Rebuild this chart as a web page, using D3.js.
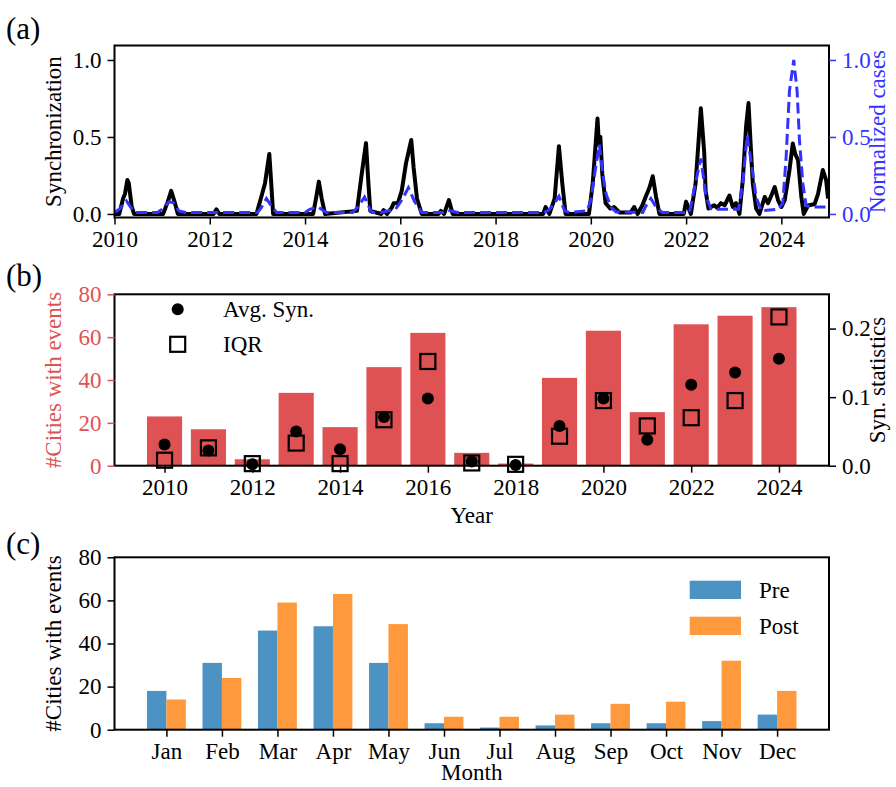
<!DOCTYPE html>
<html>
<head>
<meta charset="utf-8">
<script src="https://cdn.jsdelivr.net/npm/d3@7"></script>
<style>
  body { margin: 0; background: #fff; }
  svg text { font-family: "Liberation Serif", "DejaVu Serif", serif; }
</style>
</head>
<body>
<script>
var syncPoints = [
  [2010.00,0],[2010.10,0],[2010.18,0.10],[2010.22,0.13],[2010.27,0.22],[2010.30,0.20],[2010.36,0.05],[2010.41,0],
  [2011.02,0],[2011.12,0.08],[2011.19,0.15],[2011.26,0.08],[2011.33,0],
  [2012.08,0],[2012.14,0.03],[2012.20,0],
  [2012.98,0],[2013.09,0.12],[2013.16,0.20],[2013.25,0.39],[2013.29,0.20],[2013.33,0],
  [2014.17,0],[2014.23,0.10],[2014.29,0.21],[2014.35,0.10],[2014.42,0],
  [2015.09,0.02],[2015.19,0.26],[2015.28,0.46],[2015.33,0.20],[2015.37,0.02],
  [2015.60,0],[2015.65,0.025],[2015.72,0],[2015.82,0.04],[2015.86,0.07],[2015.95,0.07],
  [2016.03,0.15],[2016.12,0.33],[2016.23,0.48],[2016.28,0.30],[2016.35,0.10],[2016.40,0.05],[2016.45,0],
  [2016.80,0],[2016.85,0.02],[2016.92,0],[2017.02,0.09],[2017.10,0],
  [2019.00,0],[2019.05,0.045],[2019.13,0],[2019.24,0.10],[2019.33,0.44],[2019.40,0.20],[2019.47,0],
  [2019.96,0],[2020.04,0.20],[2020.10,0.45],[2020.14,0.62],[2020.17,0.45],[2020.20,0.50],[2020.24,0.26],
  [2020.31,0.07],[2020.41,0.035],[2020.49,0.045],[2020.60,0.01],[2020.84,0.01],[2020.91,0.045],[2020.98,0],
  [2021.08,0.055],[2021.15,0.11],[2021.23,0.17],[2021.30,0.245],[2021.37,0.11],[2021.44,0],
  [2021.95,0],[2022.00,0.08],[2022.10,0],[2022.20,0.20],[2022.31,0.686],[2022.38,0.40],[2022.41,0.15],
  [2022.47,0.035],[2022.59,0.056],[2022.65,0.04],[2022.73,0.07],[2022.81,0.056],[2022.91,0.12],[2022.98,0.045],
  [2023.05,0.07],[2023.12,0],[2023.19,0.22],[2023.26,0.57],[2023.31,0.72],[2023.35,0.48],[2023.40,0.20],
  [2023.47,0.035],[2023.54,0],[2023.65,0.11],[2023.72,0.07],[2023.79,0.12],[2023.86,0.175],[2023.93,0.09],
  [2024.00,0.045],[2024.07,0.09],[2024.17,0.285],[2024.24,0.458],[2024.29,0.39],[2024.35,0.35],[2024.42,0.11],
  [2024.47,0],[2024.56,0.055],[2024.70,0.065],[2024.77,0.13],[2024.87,0.285],[2024.94,0.22],[2024.98,0.10]
];
var casePoints = [
  [2010.00,0.01],[2010.10,0.03],[2010.25,0.085],[2010.35,0.04],[2010.45,0.01],
  [2010.90,0.01],[2011.00,0.03],[2011.15,0.08],[2011.25,0.07],[2011.35,0.02],[2011.50,0.01],
  [2013.00,0.01],[2013.08,0.04],[2013.19,0.10],[2013.30,0.05],[2013.40,0.01],
  [2014.00,0.01],[2014.10,0.03],[2014.27,0.045],[2014.45,0.01],
  [2015.00,0.01],[2015.12,0.05],[2015.25,0.11],[2015.32,0.06],[2015.40,0.01],
  [2015.60,0.01],[2015.90,0.03],[2016.05,0.10],[2016.17,0.17],[2016.30,0.08],[2016.45,0.01],
  [2016.90,0.01],[2017.00,0.025],[2017.20,0.01],
  [2019.00,0.01],[2019.10,0.02],[2019.22,0.06],[2019.33,0.115],[2019.45,0.02],[2019.55,0.01],
  [2019.92,0.02],[2020.00,0.09],[2020.10,0.30],[2020.18,0.45],[2020.25,0.26],[2020.32,0.13],
  [2020.42,0.045],[2020.53,0.013],[2021.09,0.01],[2021.17,0.06],[2021.26,0.10],[2021.38,0.04],[2021.50,0.01],
  [2022.07,0.01],[2022.21,0.22],[2022.31,0.36],[2022.42,0.11],[2022.52,0.035],
  [2022.67,0.03],[2023.10,0.03],[2023.19,0.20],[2023.28,0.51],[2023.37,0.33],[2023.47,0.11],[2023.58,0.02],
  [2023.93,0.03],[2024.03,0.07],[2024.10,0.37],[2024.17,0.80],[2024.26,1.0],[2024.33,0.80],[2024.38,0.48],
  [2024.45,0.20],[2024.52,0.055],[2024.63,0.045],[2024.98,0.045]
];

// ---- panel (b): yearly stats
var years = [2010,2011,2012,2013,2014,2015,2016,2017,2018,2019,2020,2021,2022,2023,2024];
var citiesPerYear = [23,17,3,34,18,46,62,6,1,41,63,25,66,70,74];
var avgSyn = [0.031,0.022,0.002,0.050,0.024,0.071,0.098,0.006,0.001,0.058,0.098,0.038,0.118,0.136,0.156];
var iqrSyn = [0.008,0.026,0.003,0.033,0.003,0.067,0.152,0.004,0.002,0.043,0.095,0.058,0.070,0.095,0.217];

// ---- panel (c): monthly counts
var months = ["Jan","Feb","Mar","Apr","May","Jun","Jul","Aug","Sep","Oct","Nov","Dec"];
var preCounts = [18,31,46,48,31,3,1,2,3,3,4,7];
var postCounts = [14,24,59,63,49,6,6,7,12,13,32,18];

var W = 896, H = 787;
var L = 114.5, R = 829;
var FS = 23;
var red = "#de5253", blue = "#3333ff", barBlue = "#4c92c3", barOrange = "#ff993e";

var svg = d3.select("body").append("svg").attr("width", W).attr("height", H);

function styleAxis(g, color) {
  g.select(".domain").remove();
  g.selectAll(".tick line").attr("stroke", color || "#000").attr("stroke-width", 1.5);
  g.selectAll(".tick text").attr("fill", color || "#000").attr("font-size", FS)
    .attr("font-family", "Liberation Serif");
}
function frame(top, bottom) {
  svg.append("rect").attr("x", L).attr("y", top).attr("width", R - L).attr("height", bottom - top)
    .attr("fill", "none").attr("stroke", "#000").attr("stroke-width", 2);
}
function panelLabel(txt, y) {
  svg.append("text").attr("x", 6).attr("y", y).attr("font-size", 31).text(txt);
}
function yLabel(txt, x, y, color) {
  svg.append("text").attr("transform", "translate(" + x + "," + y + ") rotate(-90)")
    .attr("text-anchor", "middle").attr("font-size", FS).attr("fill", color || "#000").text(txt);
}

// ================= (a)
var aTop = 45.5, aBot = 217.5;
var xa = d3.scaleLinear().domain([2010, 2025]).range([L, R]);
var ya = d3.scaleLinear().domain([-0.023, 1.094]).range([aBot, aTop]);

svg.append("clipPath").attr("id", "clipA").append("rect")
  .attr("x", L).attr("y", aTop).attr("width", R - L).attr("height", aBot - aTop);

var line = d3.line().x(function(d){ return xa(d[0]); }).y(function(d){ return ya(d[1]); });
svg.append("path").datum(syncPoints).attr("d", line).attr("clip-path", "url(#clipA)")
  .attr("fill", "none").attr("stroke", "#000").attr("stroke-width", 4).attr("stroke-linejoin", "round");
svg.append("path").datum(casePoints).attr("d", line).attr("clip-path", "url(#clipA)")
  .attr("fill", "none").attr("stroke", blue).attr("stroke-width", 3).attr("stroke-dasharray", "11,5");

frame(aTop, aBot);
svg.append("g").attr("transform", "translate(0," + aBot + ")")
  .call(d3.axisBottom(xa).tickValues(d3.range(2010, 2025, 2)).tickFormat(d3.format("d")).tickSize(7).tickPadding(6))
  .call(styleAxis);
svg.append("g").attr("transform", "translate(" + L + ",0)")
  .call(d3.axisLeft(ya).tickValues([0, 0.5, 1]).tickFormat(d3.format(".1f")).tickSize(7).tickPadding(6))
  .call(styleAxis);
svg.append("g").attr("transform", "translate(" + R + ",0)")
  .call(d3.axisRight(ya).tickValues([0, 0.5, 1]).tickFormat(d3.format(".1f")).tickSize(7).tickPadding(6))
  .call(function(g){ styleAxis(g, blue); });
yLabel("Synchronization", 61, (aTop + aBot) / 2);
yLabel("Normalized cases", 885, (aTop + aBot) / 2, blue);
panelLabel("(a)", 39);

// ================= (b)
var bTop = 294.3, bBot = 465.7;
var xb = d3.scaleLinear().domain([2008.86, 2025.14]).range([L, R]);
var yb = d3.scaleLinear().domain([0, 80]).range([bBot, bTop]);
var yb2 = d3.scaleLinear().domain([0, 0.25]).range([bBot, bTop]);

svg.append("g").selectAll("rect").data(years).enter().append("rect")
  .attr("x", function(d){ return xb(d - 0.4); })
  .attr("width", function(d){ return xb(d + 0.4) - xb(d - 0.4); })
  .attr("y", function(d, i){ return yb(citiesPerYear[i]); })
  .attr("height", function(d, i){ return bBot - yb(citiesPerYear[i]); })
  .attr("fill", red);

svg.append("g").selectAll("circle").data(years).enter().append("circle")
  .attr("cx", function(d){ return xb(d); })
  .attr("cy", function(d, i){ return yb2(avgSyn[i]); })
  .attr("r", 6).attr("fill", "#000");
svg.append("g").selectAll("rect").data(years).enter().append("rect")
  .attr("x", function(d){ return xb(d) - 7.5; })
  .attr("y", function(d, i){ return yb2(iqrSyn[i]) - 7.5; })
  .attr("width", 15).attr("height", 15)
  .attr("fill", "none").attr("stroke", "#000").attr("stroke-width", 2.2);

frame(bTop, bBot);
svg.append("g").attr("transform", "translate(0," + bBot + ")")
  .call(d3.axisBottom(xb).tickValues(d3.range(2010, 2025, 2)).tickFormat(d3.format("d")).tickSize(7).tickPadding(6))
  .call(styleAxis);
svg.append("g").attr("transform", "translate(" + L + ",0)")
  .call(d3.axisLeft(yb).tickValues(d3.range(0, 81, 20)).tickSize(7).tickPadding(6))
  .call(function(g){ styleAxis(g, red); });
svg.append("g").attr("transform", "translate(" + R + ",0)")
  .call(d3.axisRight(yb2).tickValues([0, 0.1, 0.2]).tickFormat(d3.format(".1f")).tickSize(7).tickPadding(6))
  .call(styleAxis);
yLabel("#Cities with events", 61, (bTop + bBot) / 2, red);
yLabel("Syn. statistics", 885, (bTop + bBot) / 2);
svg.append("text").attr("x", (L + R) / 2).attr("y", 523).attr("text-anchor", "middle")
  .attr("font-size", FS).text("Year");
panelLabel("(b)", 286);

// legend (b)
svg.append("circle").attr("cx", 177.7).attr("cy", 309.3).attr("r", 6).attr("fill", "#000");
svg.append("rect").attr("x", 170.2).attr("y", 336.8).attr("width", 15).attr("height", 15)
  .attr("fill", "none").attr("stroke", "#000").attr("stroke-width", 2.2);
svg.append("text").attr("x", 223).attr("y", 317).attr("font-size", FS).text("Avg. Syn.");
svg.append("text").attr("x", 223).attr("y", 352).attr("font-size", FS).text("IQR");

// ================= (c)
var cTop = 557.3, cBot = 729.7;
var xc = d3.scaleLinear().domain([-0.935, 11.935]).range([L, R]);
var yc = d3.scaleLinear().domain([0, 80]).range([cBot, cTop]);
var bw = 0.35;

var groups = [
  { values: preCounts, offset: -bw / 2, color: barBlue },
  { values: postCounts, offset: bw / 2, color: barOrange }
];
groups.forEach(function(gr){
  svg.append("g").selectAll("rect").data(gr.values).enter().append("rect")
    .attr("x", function(d, i){ return xc(i + gr.offset - bw / 2); })
    .attr("width", xc(bw) - xc(0))
    .attr("y", function(d){ return yc(d); })
    .attr("height", function(d){ return cBot - yc(d); })
    .attr("fill", gr.color);
});

frame(cTop, cBot);
svg.append("g").attr("transform", "translate(0," + cBot + ")")
  .call(d3.axisBottom(xc).tickValues(d3.range(12)).tickFormat(function(i){ return months[i]; }).tickSize(7).tickPadding(6))
  .call(styleAxis);
svg.append("g").attr("transform", "translate(" + L + ",0)")
  .call(d3.axisLeft(yc).tickValues(d3.range(0, 81, 20)).tickSize(7).tickPadding(6))
  .call(styleAxis);
yLabel("#Cities with events", 61, (cTop + cBot) / 2);
svg.append("text").attr("x", (L + R) / 2).attr("y", 780).attr("text-anchor", "middle")
  .attr("font-size", FS).text("Month");
panelLabel("(c)", 554);

// legend (c)
var legC = [{ name: "Pre", color: barBlue, y: 580.7 }, { name: "Post", color: barOrange, y: 616.7 }];
legC.forEach(function(d){
  svg.append("rect").attr("x", 689.7).attr("y", d.y).attr("width", 51.3).attr("height", 18.3).attr("fill", d.color);
  svg.append("text").attr("x", 759).attr("y", d.y + 17).attr("font-size", FS).text(d.name);
});
</script>
</body>
</html>
